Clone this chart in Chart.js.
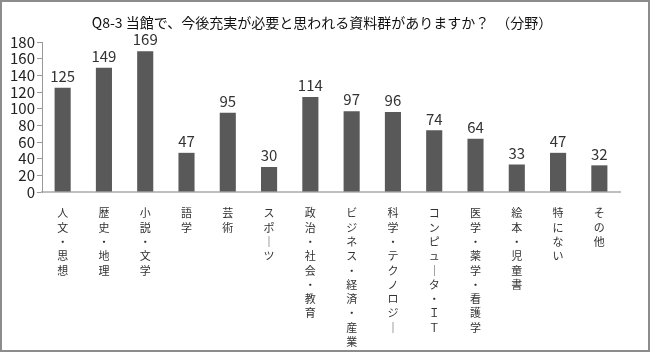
<!DOCTYPE html>
<html>
<head>
<meta charset="utf-8">
<script src="https://cdn.jsdelivr.net/npm/chart.js@4"></script>
<style>
  html, body { margin: 0; padding: 0; background: #fff; }
  #wrap { width: 650px; height: 352px; box-sizing: border-box; border: 2px solid #8c8c8c; }
</style>
</head>
<body>
<div id="wrap"><canvas id="barChart" width="646" height="348"></canvas></div>
<script>
const chartTitle = "Q8-3 当館で、今後充実が必要と思われる資料群がありますか？　（分野）";
const categories = [
    "人文・思想", "歴史・地理", "小説・文学", "語学", "芸術", "スポーツ",
    "政治・社会・教育", "ビジネス・経済・産業", "科学・テクノロジー", "コンピュータ・ＩＴ",
    "医学・薬学・看護学", "絵本・児童書", "特にない", "その他"
];
const counts = [125, 149, 169, 47, 95, 30, 114, 97, 96, 74, 64, 33, 47, 32];
const yTicks = [0, 20, 40, 60, 80, 100, 120, 140, 160, 180];

// vertical labels: one character per line, long vowel mark turned upright
const toVertical = s => Array.from(s).map(c => (c === "ー" ? "｜" : c));

const font = "'Noto Sans CJK JP', 'Noto Sans', sans-serif";

const valueLabels = {
    id: "valueLabels",
    afterDatasetsDraw(chart) {
        const ctx = chart.ctx;
        const meta = chart.getDatasetMeta(0);
        ctx.save();
        ctx.font = "15px " + font;
        ctx.fillStyle = "#333";
        ctx.textAlign = "center";
        ctx.textBaseline = "bottom";
        meta.data.forEach((bar, i) => {
            ctx.fillText(counts[i], bar.x, bar.y - 4);
        });
        ctx.restore();
    }
};

// title drawn by hand so it sits where the original has it
const titleText = {
    id: "titleText",
    afterDraw(chart) {
        const ctx = chart.ctx;
        ctx.save();
        ctx.font = "14px " + font;
        ctx.fillStyle = "#111";
        ctx.textAlign = "center";
        ctx.textBaseline = "middle";
        ctx.fillText(chartTitle, 320, 21);
        ctx.restore();
    }
};

new Chart(document.getElementById("barChart"), {
    type: "bar",
    data: {
        labels: categories.map(toVertical),
        datasets: [{
            data: counts,
            backgroundColor: "#595959",
            categoryPercentage: 1,
            barPercentage: 0.39,
        }],
    },
    options: {
        responsive: false,
        animation: false,
        layout: { padding: { top: 40, right: 28, left: 2, bottom: 0 } },
        plugins: {
            legend: { display: false },
            tooltip: { enabled: false },
        },
        scales: {
            x: {
                grid: { display: false },
                border: { color: "#bfbfbf", width: 2 },
                ticks: {
                    color: "#333",
                    font: { family: font, size: 11, lineHeight: 1.3 },
                    maxRotation: 0,
                    autoSkip: false,
                    padding: 6,
                },
                afterFit: axis => { axis.height = 158; },
            },
            y: {
                min: 0,
                max: 180,
                afterBuildTicks: axis => { axis.ticks = yTicks.map(v => ({ value: v })); },
                grid: { drawOnChartArea: false, drawTicks: true, tickLength: 5, color: "#999" },
                border: { color: "#999", width: 1 },
                ticks: {
                    color: "#222",
                    font: { family: font, size: 15 },
                    padding: 2,
                    autoSkip: false,
                },
                afterFit: axis => { axis.width = 38; },
            },
        },
    },
    plugins: [valueLabels, titleText],
});
</script>
</body>
</html>
